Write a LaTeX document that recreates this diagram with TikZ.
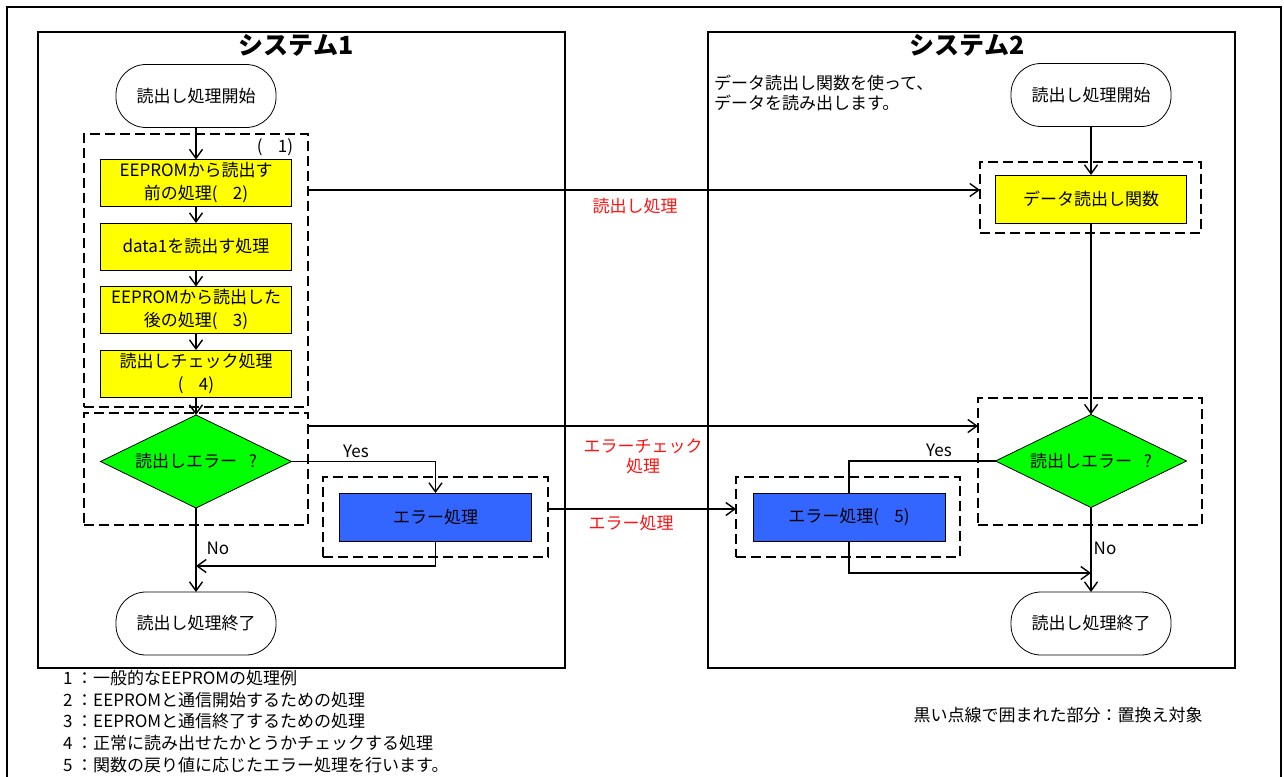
\documentclass[tikz,border=0pt]{standalone}
\usepackage{fontspec}
\setmainfont{Noto Sans CJK JP}
\usetikzlibrary{shapes.geometric,arrows.meta}
\definecolor{procyellow}{RGB}{255,255,0}
\definecolor{decgreen}{RGB}{0,255,0}
\definecolor{errblue}{RGB}{51,102,255}
\definecolor{lblred}{RGB}{255,20,20}
\begin{document}
\begin{tikzpicture}[x=1pt, y=-1pt,
  every node/.style = {inner sep=0pt, outer sep=0pt, align=center,
                       font=\fontsize{17}{23}\selectfont},
  term/.style = {draw, line width=0.8pt, rounded corners=30pt,
                 minimum width=160pt, minimum height=63pt},
  proc/.style = {draw, line width=0.8pt, fill=procyellow,
                 minimum width=191pt, minimum height=47pt},
  errbox/.style = {draw, line width=0.8pt, fill=errblue,
                   minimum width=192pt, minimum height=48pt},
  decide/.style = {draw, line width=0.8pt, diamond, aspect=2.05, fill=decgreen,
                   minimum width=191pt, minimum height=93pt},
  grp/.style = {draw, line width=2.8pt, dash pattern=on 10pt off 5pt},
  sysbox/.style = {draw, line width=1.5pt},
  systitle/.style = {font=\fontsize{25}{27}\selectfont\bfseries},
  conn/.style = {line width=1.4pt},
  arr/.style = {conn, -{Straight Barb[length=9pt,width=13pt]}},
  redlbl/.style = {text=lblred}]
\useasboundingbox (0,0) rectangle (1284,776);
\draw[line width=1.5pt] (7,800) -- (7,7) -- (1281,7) -- (1281,800);

% system 1
\draw[sysbox] (38,32) rectangle (565,668);
\node[systitle] (title1) at (296,45) {システム1};
\node[grp, minimum width=224pt, minimum height=273pt] (grpA) at (196,270.5) {};
\node[grp, minimum width=224pt, minimum height=112pt] (grpB) at (196,469) {};
\node[grp, minimum width=225pt, minimum height=80pt] (grpE) at (435.5,517) {};
\node (tag1) at (275,147) {(\hspace{0.9em}1)};

\node[term] (start1) at (196,96) {読出し処理開始};
\node[proc] (pa) at (196,183) {EEPROMから読出す\\前の処理(\hspace{0.9em}2)};
\node[proc] (pb) at (196,246.5) {data1を読出す処理};
\node[proc] (pc) at (196,310) {EEPROMから読出した\\後の処理(\hspace{0.9em}3)};
\node[proc] (pd) at (196,373.5) {読出しチェック処理\\(\hspace{0.9em}4)};
\node[decide] (dec1) at (196,461.5) {読出しエラー\hspace{0.7em}?};
\node[errbox] (err1) at (435.5,517) {エラー処理};
\node[term] (end1) at (196,623.5) {読出し処理終了};
\coordinate (join1) at (196,566);

\draw[arr] (start1) -- (pa);
\draw[arr] (pa) -- (pb);
\draw[arr] (pb) -- (pc);
\draw[arr] (pc) -- (pd);
\draw[arr] (pd) -- (dec1);
\draw[arr] (dec1.east) -- (dec1.east -| err1.north) -- (err1.north);
\draw[arr] (dec1) -- (end1);
\draw[arr] (err1.south) |- (join1);
\node (yes1) at (356,451) {Yes};
\node (no1) at (218,548) {No};

% system 2
\draw[sysbox] (708,32) rectangle (1235,668);
\node[systitle] (title2) at (967,45) {システム2};
\node[anchor=west, align=left, font=\fontsize{17}{20}\selectfont] (desc) at (714,93)
  {データ読出し関数を使って、\\データを読み出します。};
\node[grp, minimum width=221pt, minimum height=71pt] (grpC) at (1090.5,197.5) {};
\node[grp, minimum width=224pt, minimum height=127pt] (grpD) at (1090,461.5) {};
\node[grp, minimum width=224pt, minimum height=80pt] (grpF) at (848,517) {};

\node[term] (start2) at (1091,95) {読出し処理開始};
\node[proc, minimum height=48pt] (func) at (1091,199) {データ読出し関数};
\node[decide] (dec2) at (1091,461) {読出しエラー\hspace{0.7em}?};
\node[errbox] (err2) at (849,517) {エラー処理(\hspace{0.9em}5)};
\node[term] (end2) at (1091,623.5) {読出し処理終了};
\coordinate (join2) at (1091,573);

\draw[arr] (start2) -- (func);
\draw[arr] (func) -- (dec2);
\draw[conn] (dec2.west) -- (dec2.west -| err2.north) -- (err2.north);
\draw[arr] (err2.south) |- (join2);
\draw[arr] (dec2) -- (end2);
\node (yes2) at (939,450) {Yes};
\node (no2) at (1105,548) {No};

% between the systems
\draw[arr] (grpA.east |- 0,190) -- (grpC.west |- 0,190);
\draw[arr] (grpB.east |- 0,426) -- (grpD.west |- 0,426);
\draw[arr] (grpE.east |- 0,509) -- (grpF.west |- 0,509);
\node[redlbl] (lblread) at (635,206) {読出し処理};
\node[redlbl, font=\fontsize{17}{20}\selectfont] (lblcheck) at (643,456) {エラーチェック\\処理};
\node[redlbl] (lblerr) at (631,523) {エラー処理};

% notes
\foreach \idx/\txt [count=\i] in {1/一般的なEEPROMの処理例,
    2/EEPROMと通信開始するための処理, 3/EEPROMと通信終了するための処理,
    4/正常に読み出せたかとうかチェックする処理, 5/関数の戻り値に応じたエラー処理を行います。}
  \node[anchor=west] (note\i) at (63,{678+21.75*(\i-1)}) {\idx\ ：\txt};
\node (legend) at (1058,715) {黒い点線で囲まれた部分：置換え対象};
\end{tikzpicture}
\end{document}
